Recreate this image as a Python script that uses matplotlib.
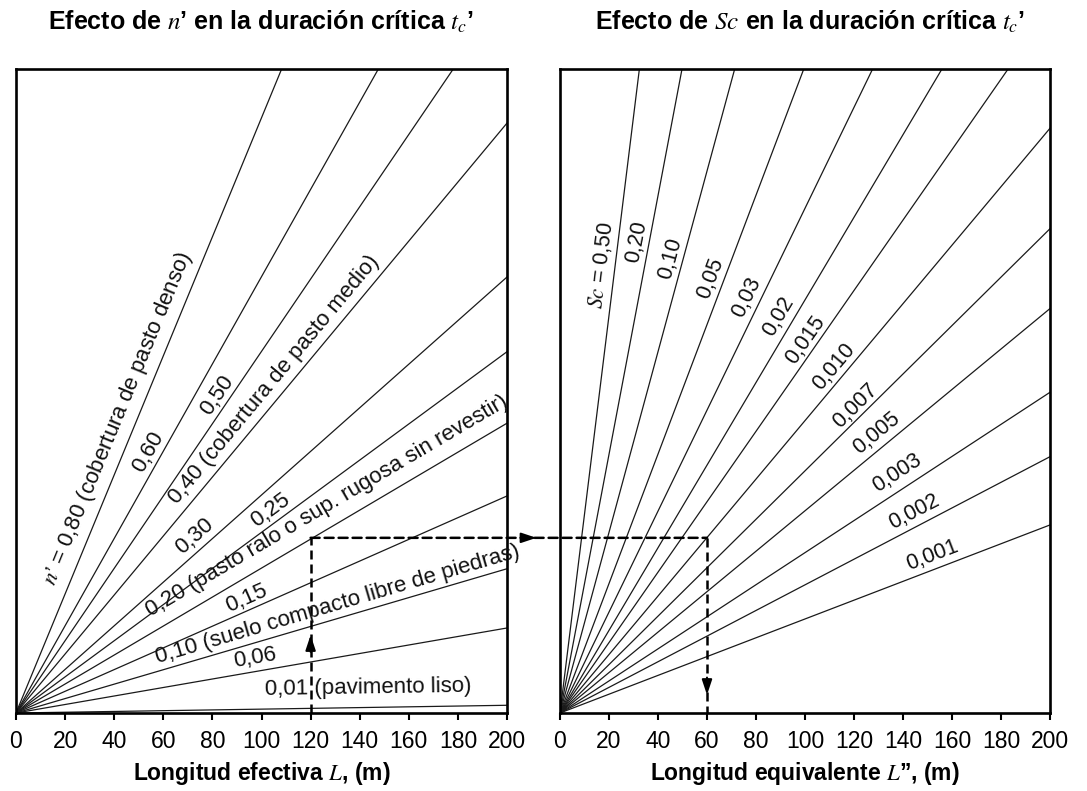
import numpy as np
import matplotlib
matplotlib.use("Agg")
import matplotlib.pyplot as plt
from matplotlib.patches import ConnectionPatch

plt.rcParams["font.family"] = ["Liberation Sans", "DejaVu Sans"]
plt.rcParams["mathtext.fontset"] = "stix"

# ── datos (eje vertical sin escala, 0-100) ──
# panel izquierdo: efecto de n'
n_valores = ["0,80", "0,60", "0,50", "0,40", "0,30", "0,25", "0,20", "0,15", "0,10", "0,06", "0,01"]
n_L_fin = [108.2, 147.6, 178.1, 200, 200, 200, 200, 200, 200, 200, 200]
n_t_fin = [100, 100, 100, 91.6, 67.7, 56.1, 45.0, 33.7, 22.4, 13.2, 1.2]
n_textos = [
    "$n$’ = 0,80 (cobertura de pasto denso)",
    "0,60",
    "0,50",
    "0,40 (cobertura de pasto medio)",
    "0,30",
    "0,25",
    "0,20 (pasto ralo o sup. rugosa sin revestir)",
    "0,15",
    "0,10 (suelo compacto libre de piedras)",
    "0,06",
    "0,01 (pavimento liso)",
]
n_pos_texto = [(41.5, 45.8), (54.0, 40.6), (81.8, 49.4), (105.1, 51.7), (72.9, 27.4),
               (103.5, 31.5), (126.7, 32.1), (94.0, 17.8), (131.2, 16.8), (97.4, 8.5),
               (143.4, 3.9)]

# panel derecho: efecto de Sc
sc_valores = ["0,50", "0,20", "0,10", "0,05", "0,03", "0,02", "0,015", "0,010",
              "0,007", "0,005", "0,003", "0,002", "0,001"]
sc_L_fin = [32.4, 49.8, 71.3, 99.5, 127.6, 155.9, 182.9, 200, 200, 200, 200, 200, 200]
sc_t_fin = [100, 100, 100, 100, 100, 100, 100, 90.8, 75.2, 62.8, 49.8, 39.8, 29.2]
sc_pos_texto = [(16.9, 69.6), (31.4, 73.2), (45.0, 70.6), (61.3, 67.5), (76.3, 64.6),
                (89.3, 61.5), (100.1, 57.9), (111.7, 53.8), (120.7, 47.7), (129.4, 43.4),
                (137.6, 37.2), (144.4, 31.3), (151.8, 24.4)]

# ejemplo de lectura (flechas punteadas)
L_ejemplo = 120
L_equiv = 60
t_ejemplo = 27.2

ticks_x = list(range(0, 201, 20))


def preparar_eje(ax, etiqueta):
    ax.set_xlim(0, 200)
    ax.set_ylim(0, 100)
    ax.set_xticks(ticks_x)
    ax.set_yticks([])
    ax.tick_params(axis="x", direction="out", length=5, width=1.5, labelsize=16.5, pad=7)
    for s in ax.spines.values():
        s.set_linewidth(1.9)
    ax.set_xlabel(etiqueta, fontsize=16.5, fontweight="bold", labelpad=5)


def dibujar_familia(ax, L_fin, t_fin, textos, posiciones, size):
    for Lf, tf, txt, (xt, yt) in zip(L_fin, t_fin, textos, posiciones):
        ax.plot([0, Lf], [0, tf], color="#1a1a1a", lw=0.9)
        ang = np.degrees(np.arctan2(tf, Lf))
        ax.text(xt, yt, txt, fontsize=size, rotation=ang, rotation_mode="anchor",
                transform_rotates_text=True, ha="center", va="center", color="#111")


fig = plt.figure(figsize=(10.87, 7.91), dpi=100)
ax1 = fig.add_axes([16 / 1087, 78 / 791, 491 / 1087, 644 / 791])
ax2 = fig.add_axes([560 / 1087, 78 / 791, 490 / 1087, 644 / 791])

preparar_eje(ax1, "Longitud efectiva $L$, (m)")
preparar_eje(ax2, "Longitud equivalente $L$”, (m)")

dibujar_familia(ax1, n_L_fin, n_t_fin, n_textos, n_pos_texto, 16)
sc_textos = ["$Sc$ = " + sc_valores[0]] + sc_valores[1:]
dibujar_familia(ax2, sc_L_fin, sc_t_fin, sc_textos, sc_pos_texto, 15.5)

# recorrido del ejemplo
estilo = dict(color="k", lw=1.8, dashes=(3.6, 2))
ax1.plot([L_ejemplo, L_ejemplo], [0, t_ejemplo], **estilo)
ax2.plot([L_equiv, L_equiv], [t_ejemplo, 0], **estilo)
con = ConnectionPatch(xyA=(L_ejemplo, t_ejemplo), coordsA=ax1.transData,
                      xyB=(L_equiv, t_ejemplo), coordsB=ax2.transData,
                      color="k", lw=1.8, linestyle=(0, (3.6, 2)))
fig.add_artist(con)

punta = dict(arrowstyle="-|>,head_length=0.9,head_width=0.3", color="k", lw=1.5,
             shrinkA=0, shrinkB=0)
ax1.annotate("", xy=(L_ejemplo, 12.1), xytext=(L_ejemplo, 9.5), arrowprops=punta)
ax1.annotate("", xy=(212, t_ejemplo), xytext=(206, t_ejemplo), arrowprops=punta,
             annotation_clip=False)
ax2.annotate("", xy=(L_equiv, 2.8), xytext=(L_equiv, 5.5), arrowprops=punta)

titulo_fuente = ["Liberation Sans Narrow", "Liberation Sans", "DejaVu Sans"]
fig.text(0.240, 0.972, "Efecto de $n$’ en la duración crítica $t_c$’", ha="center",
         va="center", fontsize=18, fontweight="bold", family=titulo_fuente)
fig.text(0.745, 0.972, "Efecto de $Sc$ en la duración crítica $t_c$’", ha="center",
         va="center", fontsize=18, fontweight="bold", family=titulo_fuente)

fig.savefig("out.png", dpi=100)
